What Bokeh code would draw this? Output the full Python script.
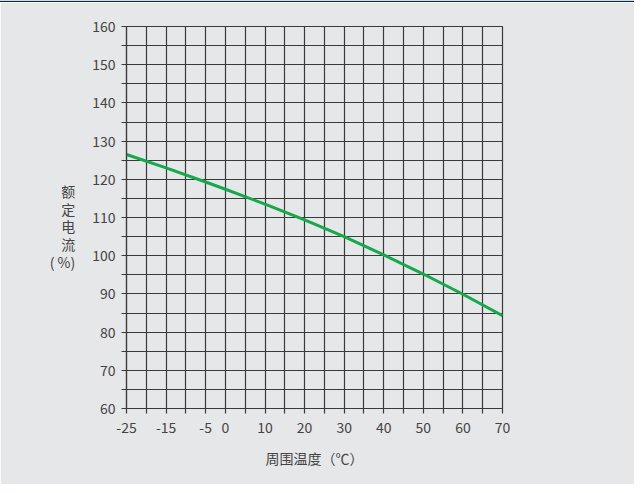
from bokeh.plotting import figure
from bokeh.models import Range1d, FixedTicker, Div
from bokeh.layouts import column
from bokeh.embed import file_html
from bokeh.resources import INLINE

# data
temps = [-25, -15, -5, 0, 10, 20, 30, 40, 50, 60, 70]
current = [126.5, 123.0, 119.3, 117.4, 113.5, 109.4, 105.0, 100.2, 95.2, 89.9, 84.3]
x_grid_ticks = list(range(-25, 71, 5))
x_label_ticks = [-25, -15, -5, 0, 10, 20, 30, 40, 50, 60, 70]
y_grid_ticks = list(range(60, 161, 5))
y_label_ticks = list(range(60, 161, 10))
y_title = "\n额\n定\n电\n流\n( %)"
x_title = "周围温度（℃）"

BG = "#e6e7e9"
GRID = "#3a3a3a"
TXT = "#444444"
FONT = "Noto Sans CJK SC"

band = Div(text="", width=634, height=2,
           styles={"background-color": "#b5e3f8", "border-bottom": "1px solid #222222",
                   "margin": "0", "padding": "0"})

p = figure(width=634, height=482, output_backend="svg", toolbar_location=None,
           x_range=Range1d(-25, 70), y_range=Range1d(60, 160),
           min_border_left=126, min_border_right=132, min_border_top=24, min_border_bottom=76,
           frame_width=376, frame_height=382)
p.background_fill_color = BG
p.border_fill_color = BG
p.outline_line_color = GRID
p.outline_line_width = 1.2

for ax, ticks, labels in ((p.xaxis[0], x_grid_ticks, x_label_ticks), (p.yaxis[0], y_grid_ticks, y_label_ticks)):
    ax.ticker = FixedTicker(ticks=ticks)
    ax.major_label_overrides = {t: ("" if t not in labels else str(t)) for t in ticks}
    ax.axis_line_color = GRID
    ax.axis_line_width = 1.2
    ax.major_tick_line_color = GRID
    ax.major_tick_line_width = 1.2
    ax.major_tick_out = 5
    ax.major_tick_in = 0
    ax.minor_tick_line_color = None
    ax.major_label_text_font = FONT
    ax.major_label_text_font_size = "14px"
    ax.major_label_text_color = TXT
    ax.axis_label_text_font = FONT
    ax.axis_label_text_font_size = "14px"
    ax.axis_label_text_color = TXT
    ax.axis_label_text_font_style = "normal"
p.xaxis.major_label_standoff = 8
p.yaxis.major_label_standoff = 6

p.xaxis.axis_label = x_title
p.xaxis.axis_label_standoff = 12
p.yaxis.axis_label = y_title
p.yaxis.axis_label_orientation = "horizontal"
p.yaxis.axis_label_standoff = 14
p.yaxis.axis_label_text_line_height = 0.89
p.yaxis.axis_label_text_align = "center"

p.xgrid.ticker = FixedTicker(ticks=x_grid_ticks)
p.ygrid.ticker = FixedTicker(ticks=y_grid_ticks)
for g in (p.xgrid[0], p.ygrid[0]):
    g.grid_line_color = GRID
    g.grid_line_width = 1.2
    g.grid_line_alpha = 1.0

p.line(temps, current, line_color="#17a84b", line_width=3)

layout = column(band, p, spacing=0)
open("out.html", "w").write(file_html(layout, INLINE))
